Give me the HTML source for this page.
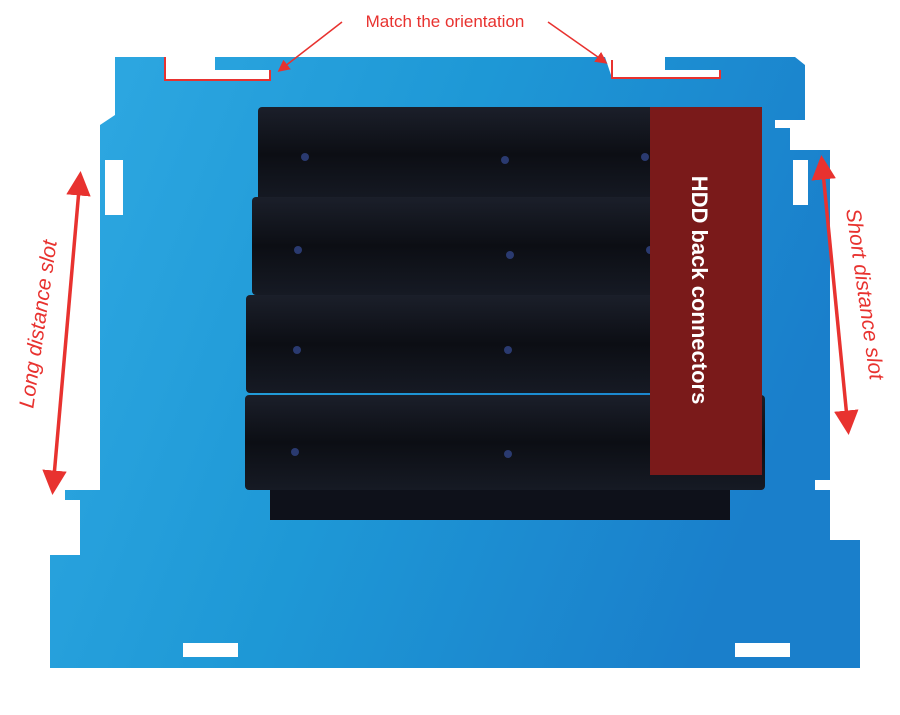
<!DOCTYPE html>
<html><head><meta charset="utf-8"><style>
html,body{margin:0;padding:0;background:#fff;}
svg{display:block;font-family:"Liberation Sans",sans-serif;}
</style></head><body>
<svg width="900" height="715" viewBox="0 0 900 715">
<defs>
<linearGradient id="pl" x1="0" y1="0" x2="1" y2="0.3">
<stop offset="0" stop-color="#2fa9e2"/><stop offset="0.5" stop-color="#1e98d6"/><stop offset="1" stop-color="#1a7fcb"/>
</linearGradient>
<linearGradient id="hd" x1="0" y1="0" x2="0" y2="1">
<stop offset="0" stop-color="#1b1f2a"/><stop offset="0.5" stop-color="#0c0e14"/><stop offset="1" stop-color="#161a24"/>
</linearGradient>
<marker id="ah" markerWidth="8" markerHeight="8" refX="6" refY="4" orient="auto-start-reverse" markerUnits="strokeWidth">
<path d="M0,0 L8,4 L0,8 z" fill="#e8322f"/></marker>
<marker id="ah2" markerWidth="7" markerHeight="7" refX="5" refY="3.5" orient="auto-start-reverse" markerUnits="strokeWidth">
<path d="M0,0 L7,3.5 L0,7 z" fill="#e8322f"/></marker>
</defs>
<path fill="url(#pl)" d="
M115,57 L165,57 L165,80 L270,80 L270,70 L215,70 L215,57 L605,57 L612,78 L720,78 L720,70 L665,70 L665,57 L795,57 L805,65 L805,120 L775,120 L775,128 L790,128 L790,150 L830,150 L830,480 L815,480 L815,490 L830,490 L830,540 L860,540 L860,668 L50,668 L50,555 L80,555 L80,500 L65,500 L65,490 L100,490 L100,160 L100,125 L115,115 Z"/>
<rect x="105" y="160" width="18" height="55" fill="#fff"/>
<rect x="793" y="160" width="15" height="45" fill="#fff"/>
<rect x="183" y="643" width="55" height="14" fill="#fff"/>
<rect x="735" y="643" width="55" height="14" fill="#fff"/>
<polyline points="165,57 165,80 270,80 270,70" fill="none" stroke="#e8322f" stroke-width="2"/>
<polyline points="612,60 612,78 720,78 720,70" fill="none" stroke="#e8322f" stroke-width="2"/>
<g>
<rect x="270" y="480" width="460" height="40" fill="#0e111a"/>
<rect x="258" y="107" width="480" height="95" rx="4" fill="url(#hd)"/>
<rect x="252" y="197" width="488" height="98" rx="4" fill="url(#hd)"/>
<rect x="246" y="295" width="500" height="98" rx="4" fill="url(#hd)"/>
<rect x="245" y="395" width="520" height="95" rx="4" fill="url(#hd)"/>
<g fill="#2a3a70"><circle cx="305" cy="157" r="4"/><circle cx="505" cy="160" r="4"/><circle cx="645" cy="157" r="4"/>
<circle cx="298" cy="250" r="4"/><circle cx="510" cy="255" r="4"/><circle cx="650" cy="250" r="4"/>
<circle cx="297" cy="350" r="4"/><circle cx="508" cy="350" r="4"/><circle cx="655" cy="350" r="4"/>
<circle cx="295" cy="452" r="4"/><circle cx="508" cy="454" r="4"/><circle cx="660" cy="455" r="4"/></g>
</g>
<rect x="650" y="107" width="112" height="368" fill="#7a1a1a"/>
<text x="0" y="0" transform="translate(692,290) rotate(90)" text-anchor="middle" fill="#fff" font-size="22" font-weight="bold">HDD back connectors</text>
<text x="445" y="27" text-anchor="middle" fill="#e8322f" font-size="17">Match the orientation</text>
<line x1="342" y1="22" x2="280" y2="70" stroke="#e8322f" stroke-width="1.5" marker-end="url(#ah)"/>
<line x1="548" y1="22" x2="605" y2="62" stroke="#e8322f" stroke-width="1.5" marker-end="url(#ah)"/>
<text transform="translate(45,325) rotate(-82)" text-anchor="middle" fill="#e8322f" font-size="21" font-style="italic">Long distance slot</text>
<line x1="80" y1="178" x2="53" y2="488" stroke="#e8322f" stroke-width="3.5" marker-start="url(#ah2)" marker-end="url(#ah2)"/>
<text transform="translate(858,295) rotate(82)" text-anchor="middle" fill="#e8322f" font-size="21" font-style="italic">Short distance slot</text>
<line x1="822" y1="162" x2="848" y2="428" stroke="#e8322f" stroke-width="3.5" marker-start="url(#ah2)" marker-end="url(#ah2)"/>
</svg>
</body></html>
